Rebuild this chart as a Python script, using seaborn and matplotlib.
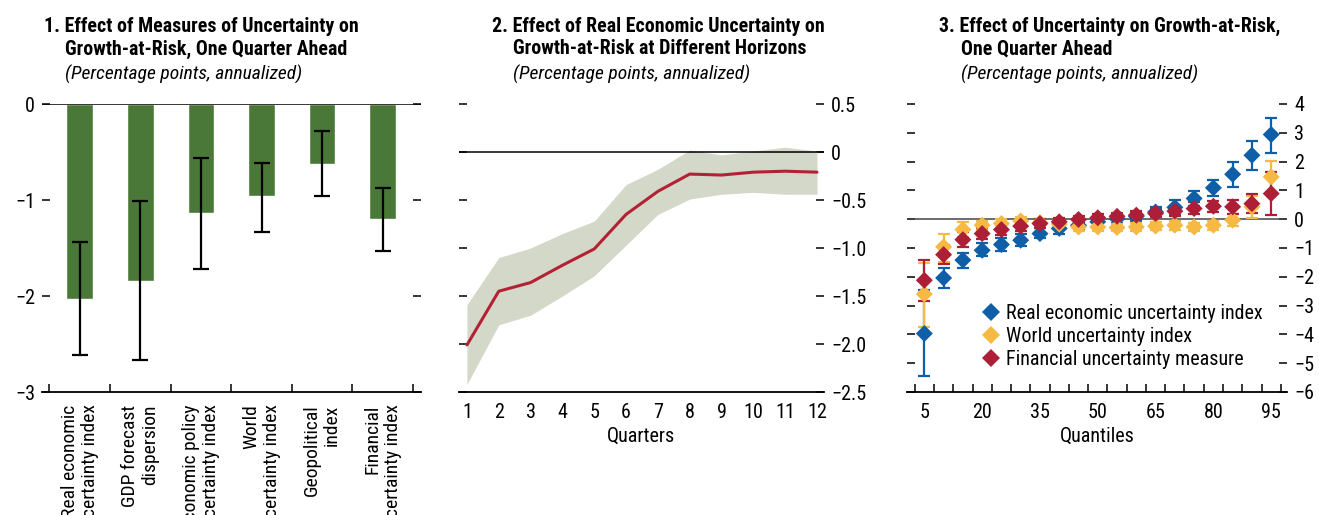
import numpy as np
import pandas as pd
import seaborn as sns
import matplotlib.pyplot as plt

sns.set_theme(style="white")
plt.rcParams['font.family'] = ['Roboto Condensed', 'DejaVu Sans']
plt.rcParams['axes.unicode_minus'] = True
plt.rcParams['text.color'] = 'black'
plt.rcParams['xtick.color'] = 'black'
plt.rcParams['ytick.color'] = 'black'
plt.rcParams['axes.labelcolor'] = 'black'

#==============================================================================
# panel 1 : bars with confidence bands
measures = ["Real economic\nuncertainty index", "GDP forecast\ndispersion",
            "Economic policy\nuncertainty index", "World\nuncertainty index",
            "Geopolitical\nindex", "Financial\nuncertainty index"]
bar_effect = [-2.03, -1.84, -1.14, -0.96, -0.62, -1.20]
bar_lo = [-2.61, -2.67, -1.72, -1.33, -0.96, -1.53]
bar_hi = [-1.44, -1.01, -0.56, -0.61, -0.28, -0.87]

# panel 2 : horizons
quarters = list(range(1, 13))
horizon_effect = [-2.01, -1.45, -1.36, -1.18, -1.01, -0.65, -0.41, -0.23, -0.24, -0.21, -0.20, -0.21]
horizon_upper = [-1.59, -1.10, -1.00, -0.85, -0.72, -0.34, -0.18, 0.02, -0.03, 0.01, 0.05, 0.01]
horizon_lower = [-2.42, -1.80, -1.70, -1.50, -1.29, -0.97, -0.65, -0.49, -0.44, -0.42, -0.44, -0.44]

# panel 3 : quantiles
quantiles = list(range(5, 100, 5))
reu = [-3.97, -2.04, -1.42, -1.08, -0.88, -0.73, -0.50, -0.32, -0.21, -0.09, 0.02, 0.10, 0.25, 0.41, 0.72, 1.09, 1.56, 2.22, 2.94]
reu_lo = [-5.45, -2.38, -1.68, -1.27, -1.10, -0.94, -0.67, -0.50, -0.36, -0.22, -0.12, -0.05, 0.08, 0.14, 0.45, 0.82, 1.12, 1.70, 2.31]
reu_hi = [-2.47, -1.69, -1.19, -0.84, -0.67, -0.52, -0.32, -0.17, -0.07, 0.04, 0.15, 0.25, 0.41, 0.66, 0.98, 1.35, 1.99, 2.72, 3.52]
wui = [-2.60, -0.96, -0.36, -0.21, -0.15, -0.06, -0.12, -0.17, -0.27, -0.27, -0.29, -0.27, -0.24, -0.21, -0.27, -0.21, -0.03, 0.43, 1.47]
wui_lo = [-3.74, -1.48, -0.61, -0.38, -0.30, -0.20, -0.25, -0.30, -0.40, -0.40, -0.42, -0.40, -0.38, -0.36, -0.42, -0.38, -0.24, 0.05, 0.89]
wui_hi = [-1.52, -0.52, -0.09, -0.05, 0.00, 0.07, 0.01, -0.04, -0.14, -0.13, -0.15, -0.13, -0.10, -0.07, -0.12, -0.05, 0.17, 0.80, 2.03]
fum = [-2.12, -1.23, -0.71, -0.50, -0.36, -0.24, -0.15, -0.09, -0.01, 0.05, 0.10, 0.14, 0.20, 0.28, 0.37, 0.45, 0.43, 0.54, 0.89]
fum_lo = [-2.84, -1.56, -0.96, -0.70, -0.55, -0.42, -0.30, -0.22, -0.13, -0.07, -0.02, 0.02, 0.06, 0.10, 0.17, 0.25, 0.17, 0.20, 0.14]
fum_hi = [-1.42, -0.88, -0.44, -0.30, -0.17, -0.06, 0.00, 0.04, 0.11, 0.17, 0.22, 0.27, 0.34, 0.45, 0.60, 0.62, 0.68, 0.87, 1.64]
series_names = ["Real economic uncertainty index", "World uncertainty index", "Financial uncertainty measure"]

GREEN = "#4a7838"
RED = "#b22234"
BAND = "#d3d8c8"
BLUE = "#0f5ea8"
YELLOW = "#f5b944"
DRED = "#ad1f36"

FS = 14.5
#==============================================================================
fig = plt.figure(figsize=(13.19, 5.15), dpi=100)
W, H = 1319, 515

def add_ax(x0, x1, y0=104, y1=392):
    return fig.add_axes([x0 / W, 1 - y1 / H, (x1 - x0) / W, (y1 - y0) / H])

ax1 = add_ax(42, 421)
ax2 = add_ax(459, 824)
ax3 = add_ax(907, 1287)

for ax in (ax1, ax2, ax3):
    for s in ("left", "right", "top"):
        ax.spines[s].set_visible(False)
    ax.spines["bottom"].set_color("black")
    ax.spines["bottom"].set_linewidth(1.3)
    ax.set_facecolor("none")
    ax.tick_params(axis="y", which="both", direction="in", length=6, width=1.1,
                   color="black", left=True, right=True, labelsize=FS, pad=5)
    ax.tick_params(axis="x", which="minor", direction="in", length=6, width=1.1,
                   color="black", bottom=True)
    ax.tick_params(axis="x", which="major", labelsize=FS)

# ---- panel 1
sns.barplot(x=measures, y=bar_effect, color=GREEN, saturation=1, width=0.44, ax=ax1)
mid = (np.array(bar_lo) + np.array(bar_hi)) / 2
half = (np.array(bar_hi) - np.array(bar_lo)) / 2
ax1.errorbar(np.arange(len(measures)), mid, yerr=half, fmt="none", ecolor="black",
             elinewidth=1.6, capsize=5.7, capthick=1.6)
ax1.axhline(0, color="black", lw=1.1)
ax1.set_ylim(-3, 0)
ax1.set_xlim(-0.62, 5.63)
ax1.set_yticks([0, -1, -2, -3])
ax1.set_yticklabels(["0", "\u22121", "\u22122", "\u22123"])
ax1.tick_params(axis="y", labelleft=True, labelright=False)
ax1.set_xticks(np.arange(len(measures)))
ax1.set_xticks(np.arange(-0.5, 6, 1), minor=True)
ax1.tick_params(axis="x", which="major", length=0, pad=9)
ax1.set_xticklabels(measures, rotation=90, fontsize=14, va="top", ha="center",
                    multialignment="right", linespacing=1.15)

# ---- panel 2
ax2.fill_between(quarters, horizon_lower, horizon_upper, color=BAND, lw=0)
sns.lineplot(x=quarters, y=horizon_effect, color=RED, lw=2.2, ax=ax2)
ax2.axhline(0, color="black", lw=1.1)
ax2.set_ylim(-2.5, 0.5)
ax2.set_xlim(0.75, 12.22)
ax2.set_yticks([0.5, 0, -0.5, -1.0, -1.5, -2.0, -2.5])
ax2.set_yticklabels(["0.5", "0", "\u22120.5", "\u22121.0", "\u22121.5", "\u22122.0", "\u22122.5"])
ax2.tick_params(axis="y", labelleft=False, labelright=True)
ax2.set_xticks(quarters)
ax2.set_xticks(quarters, minor=True)
ax2.tick_params(axis="x", which="major", length=0, pad=8)
ax2.set_xlabel("Quarters", fontsize=FS, labelpad=3)

# ---- panel 3
ax3.axhline(0, color="#444444", lw=1.1)
for vals, lo, hi, c in [(reu, reu_lo, reu_hi, BLUE), (wui, wui_lo, wui_hi, YELLOW), (fum, fum_lo, fum_hi, DRED)]:
    lo = np.array(lo); hi = np.array(hi)
    ax3.errorbar(quantiles, (lo + hi) / 2, yerr=(hi - lo) / 2, fmt="none", ecolor=c,
                 elinewidth=1.6, capsize=4, capthick=1.6)
df = pd.concat([
    pd.DataFrame({"q": quantiles, "v": reu, "series": series_names[0]}),
    pd.DataFrame({"q": quantiles, "v": wui, "series": series_names[1]}),
    pd.DataFrame({"q": quantiles, "v": fum, "series": series_names[2]}),
])
sns.scatterplot(data=df, x="q", y="v", hue="series", hue_order=series_names,
                palette=[BLUE, YELLOW, DRED], marker="D", s=75, linewidth=0, ax=ax3, zorder=3)
ax3.set_ylim(-6, 4)
ax3.set_xlim(0.5, 99.1)
ax3.set_yticks(list(range(4, -7, -1)))
ax3.set_yticklabels([str(v).replace("-", "\u2212") for v in range(4, -7, -1)])
ax3.tick_params(axis="y", labelleft=False, labelright=True)
ax3.set_xticks([5, 20, 35, 50, 65, 80, 95])
ax3.set_xticks(np.arange(2.5, 100, 5), minor=True)
ax3.tick_params(axis="x", which="major", length=0, pad=8)
ax3.set_xlabel("Quantiles", fontsize=FS, labelpad=3)
ax3.set_ylabel("")
ax3.legend(loc="upper left", bbox_to_anchor=(0.195, 0.307), frameon=False, fontsize=FS,
           handlelength=1.0, handletextpad=0.25, borderaxespad=0, borderpad=0,
           labelspacing=0.2, markerscale=1.0)

for ax in (ax1, ax2):
    ax.set_ylabel("")

# ---- titles
titles = [
    (44, 65, "1. Effect of Measures of Uncertainty on", "Growth-at-Risk, One Quarter Ahead"),
    (492, 513, "2. Effect of Real Economic Uncertainty on", "Growth-at-Risk at Different Horizons"),
    (939, 961, "3. Effect of Uncertainty on Growth-at-Risk,", "One Quarter Ahead"),
]
for x1, x2, l1, l2 in titles:
    fig.text(x1 / W, 1 - 26 / H, l1, fontsize=14.3, fontweight="bold", va="center", ha="left")
    fig.text(x2 / W, 1 - 49 / H, l2, fontsize=14.3, fontweight="bold", va="center", ha="left")
    fig.text(x2 / W, 1 - 74 / H, "(Percentage points, annualized)", fontsize=14,
             style="italic", va="center", ha="left")

fig.savefig("out.png", dpi=100)
